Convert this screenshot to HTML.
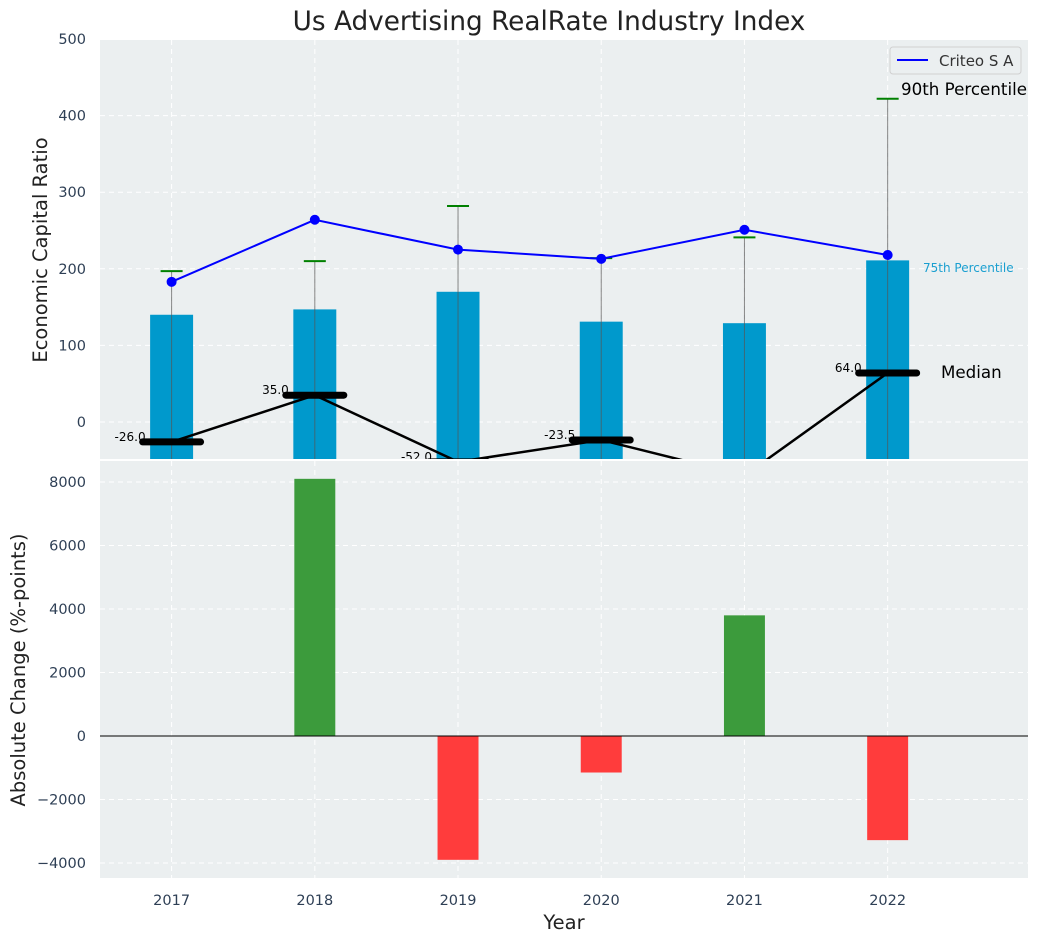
<!DOCTYPE html>
<html><head><meta charset="utf-8"><style>
body{margin:0;background:#fff;}
svg{font-family:"DejaVu Sans","Liberation Sans",sans-serif;}
</style></head><body>
<svg id="c" width="1039" height="942"></svg>
<script>
const years=[2017,2018,2019,2020,2021,2022];
const p75=[140,147,170,131,129,211];
const company=[183,264,225,213,251,218];
const p90=[197,210,282,214,241,422];
const median=[-26,35,-52,-23.5,-70,64];
const medLabels=["-26.0","35.0","-52.0","-23.5","",'64.0'];
const change=[0,8100,-3900,-1150,3800,-3280];
const topTicks=[0,100,200,300,400,500];
const botTicks=[-4000,-2000,0,2000,4000,6000,8000];

const NS="http://www.w3.org/2000/svg";
const svg=document.getElementById('c');
function mk(t,a,p){const e=document.createElementNS(NS,t);for(const k in a)e.setAttribute(k,a[k]);(p||svg).appendChild(e);return e;}
const L=100,R=1028;
const xs=v=>L+(v-2016.5)*(R-L)/(2022.98-2016.5);
const T0=40,T1=459,ys=v=>422-v*0.766;
const B0=459,B1=878,yb=v=>736-v*0.03175;

const defs=mk('defs',{});
const cp=mk('clipPath',{id:'ct'},defs);mk('rect',{x:L,y:T0,width:R-L,height:T1-T0},cp);
const cb=mk('clipPath',{id:'cb'},defs);mk('rect',{x:L,y:B0,width:R-L,height:B1-B0},cb);

let bg=mk('rect',{x:L,y:T0,width:R-L,height:T1-T0,fill:'#ebeff0'});

bg=mk('rect',{x:L,y:B0+2,width:R-L,height:B1-B0-2,fill:'#ebeff0'});


years.forEach(y=>{
  mk('line',{x1:xs(y),x2:xs(y),y1:T0,y2:T1,stroke:'#fff','stroke-dasharray':'5,4','stroke-width':1});
  mk('line',{x1:xs(y),x2:xs(y),y1:B0+2,y2:B1,stroke:'#fff','stroke-dasharray':'5,4','stroke-width':1});
  const t=mk('text',{x:xs(y),y:905,'text-anchor':'middle','font-size':14.5,fill:'#2e3f55'});t.textContent=y;
  
});
topTicks.forEach(v=>{
  mk('line',{x1:L,x2:R,y1:ys(v),y2:ys(v),stroke:'#fff','stroke-dasharray':'5,4'});
  const t=mk('text',{x:86,y:ys(v)+5,'text-anchor':'end','font-size':14.5,fill:'#2e3f55'});t.textContent=v;
  
});
botTicks.forEach(v=>{
  mk('line',{x1:L,x2:R,y1:yb(v),y2:yb(v),stroke:'#fff','stroke-dasharray':'5,4'});
  const t=mk('text',{x:86,y:yb(v)+5,'text-anchor':'end','font-size':14.5,fill:'#2e3f55'});t.textContent=(v<0?'−'+(-v):v);
  
});

const gt=mk('g',{'clip-path':'url(#ct)'});
const bw=0.3*(R-L)/6.48;
years.forEach((y,i)=>{
  const b=mk('rect',{x:xs(y)-bw/2,y:ys(p75[i]),width:bw,height:T1-ys(p75[i]),fill:'#0099cc'},gt);
  
  mk('line',{x1:xs(y),x2:xs(y),y1:T1,y2:ys(p90[i]),stroke:'#555','stroke-width':1,opacity:0.7},gt);
  const c=mk('line',{x1:xs(y)-11,x2:xs(y)+11,y1:ys(p90[i]),y2:ys(p90[i]),stroke:'green','stroke-width':2},gt);
  
});
let pts=years.map((y,i)=>xs(y)+','+ys(median[i])).join(' ');
let ml=mk('polyline',{points:pts,fill:'none',stroke:'#000','stroke-width':2.5},gt);

years.forEach((y,i)=>{
  const s=mk('line',{x1:xs(y)-29,x2:xs(y)+29,y1:ys(median[i]),y2:ys(median[i]),stroke:'#000','stroke-width':7,'stroke-linecap':'round'},gt);
  
  if(medLabels[i]){const t=mk('text',{x:xs(y)-26,y:ys(median[i])-1,'text-anchor':'end','font-size':12,fill:'#000'},gt);t.textContent=medLabels[i];
  }
});
pts=years.map((y,i)=>xs(y)+','+ys(company[i])).join(' ');
let cl=mk('polyline',{points:pts,fill:'none',stroke:'#0000ff','stroke-width':2},gt);

years.forEach((y,i)=>{const d=mk('circle',{cx:xs(y),cy:ys(company[i]),r:5,fill:'#0000ff'},gt);
  });

let t=mk('text',{x:901,y:95,'font-size':16.7,fill:'#000'});t.textContent='90th Percentile';

t=mk('text',{x:923,y:272,'font-size':12,fill:'#1a9fd0'});t.textContent='75th Percentile';

t=mk('text',{x:941,y:378,'font-size':16.7,fill:'#000'});t.textContent='Median';


const lg=mk('g',{});
mk('rect',{x:890,y:47,width:131,height:27,rx:3,fill:'#ebeff0',stroke:'#d0d0d0'},lg);
mk('line',{x1:897,x2:928,y1:60,y2:60,stroke:'#0000ff','stroke-width':2},lg);
t=mk('text',{x:939,y:66,'font-size':15,fill:'#333'},lg);t.textContent='Criteo S A';

const gb=mk('g',{'clip-path':'url(#cb)'});
years.forEach((y,i)=>{
  const v=change[i];if(!v)return;
  const r=mk('rect',{x:xs(y)-bw/2+1,y:Math.min(yb(v),yb(0)),width:bw-2,height:Math.abs(yb(v)-yb(0)),fill:v>0?'#3c9b3c':'#ff3c3c'},gb);
  
});
mk('line',{x1:L,x2:R,y1:yb(0),y2:yb(0),stroke:'#000','stroke-width':1});

t=mk('text',{x:549,y:30,'text-anchor':'middle','font-size':26.3,fill:'#222'});t.textContent='Us Advertising RealRate Industry Index';

t=mk('text',{x:0,y:0,'text-anchor':'middle','font-size':19.5,fill:'#222',transform:'translate(47,250) rotate(-90)'});t.textContent='Economic Capital Ratio';

t=mk('text',{x:0,y:0,'text-anchor':'middle','font-size':19.5,fill:'#222',transform:'translate(25,670) rotate(-90)'});t.textContent='Absolute Change (%-points)';

t=mk('text',{x:564,y:929,'text-anchor':'middle','font-size':19.5,fill:'#222'});t.textContent='Year';

</script>
</body></html>
